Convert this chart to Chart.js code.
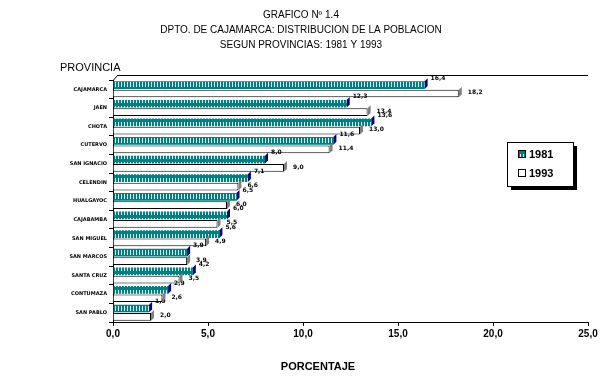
<!DOCTYPE html>
<html>
<head>
<meta charset="utf-8">
<script src="https://cdn.jsdelivr.net/npm/chart.js@4/dist/chart.umd.min.js"></script>
<style>
  html, body { margin: 0; padding: 0; background: #fff; }
  #wrap { width: 614px; height: 383px; }
</style>
</head>
<body>
<div id="wrap"><canvas id="myChart" width="614" height="383"></canvas></div>
<script>
const provincias = ['CAJAMARCA', 'JAEN', 'CHOTA', 'CUTERVO', 'SAN IGNACIO', 'CELENDIN', 'HUALGAYOC',
    'CAJABAMBA', 'SAN MIGUEL', 'SAN MARCOS', 'SANTA CRUZ', 'CONTUMAZA', 'SAN PABLO'];
const valores1981 = [16.4, 12.3, 13.6, 11.6, 8.0, 7.1, 6.5, 6.0, 5.6, 3.9, 4.2, 2.9, 1.9];
const valores1993 = [18.2, 13.4, 13.0, 11.4, 9.0, 6.6, 6.0, 5.5, 4.9, 3.9, 3.5, 2.6, 2.0];
const xTicks = [0, 5, 10, 15, 20, 25];
const titulo = ['GRAFICO Nº 1.4', 'DPTO. DE CAJAMARCA: DISTRIBUCION DE LA POBLACION', 'SEGUN PROVINCIAS: 1981 Y 1993'];

const fmt = v => v.toFixed(1).replace('.', ',');

// teal with light vertical stripes
const makePattern = () => {
    const c = document.createElement('canvas');
    c.width = 3; c.height = 8;
    const g = c.getContext('2d');
    g.fillStyle = '#008080';
    g.fillRect(0, 0, 3, 8);
    g.fillStyle = '#d8f0f0';
    g.fillRect(1, 2, 1, 5);
    return g.createPattern(c, 'repeat');
};

const extras = {
    id: 'extras',
    afterDatasetsDraw(chart) {
        const ctx = chart.ctx;
        const ca = chart.chartArea;
        ctx.save();
        // top line of the plot
        ctx.strokeStyle = '#000';
        ctx.lineWidth = 1;
        ctx.beginPath();
        ctx.moveTo(ca.left + 4, ca.top - 4.5);
        ctx.lineTo(ca.right, ca.top - 4.5);
        ctx.moveTo(ca.left + 0.5, ca.top);
        ctx.lineTo(ca.left + 4.5, ca.top - 4.5);
        ctx.stroke();

        // 3D end caps and value labels
        ctx.font = 'bold 6px "DejaVu Sans"';
        ctx.textBaseline = 'middle';
        ctx.textAlign = 'left';
        chart.data.datasets.forEach((ds, di) => {
            chart.getDatasetMeta(di).data.forEach((bar, i) => {
                const h = bar.height;
                const top = bar.y - h / 2;
                ctx.fillStyle = di === 0 ? '#000080' : '#808080';
                ctx.beginPath();
                ctx.moveTo(bar.x, top);
                ctx.lineTo(bar.x + 3, top - 3);
                ctx.lineTo(bar.x + 3, top + h - 3);
                ctx.lineTo(bar.x, top + h);
                ctx.closePath();
                ctx.fill();
                ctx.fillStyle = '#000';
                if (di === 0) {
                    ctx.fillText(fmt(ds.data[i]), bar.x + 6, top - 3);
                } else {
                    ctx.fillText(fmt(ds.data[i]), bar.x + 9, bar.y - 1);
                }
            });
        });

        // titles
        ctx.font = '10px "Liberation Sans"';
        ctx.textAlign = 'center';
        titulo.forEach((t, i) => ctx.fillText(t, 301, 15 + i * 15));
        ctx.font = '11px "Liberation Sans"';
        ctx.textAlign = 'left';
        ctx.fillText('PROVINCIA', 60, 68);
        ctx.font = 'bold 11px "Liberation Sans"';
        ctx.textAlign = 'center';
        ctx.fillText('PORCENTAJE', 318, 367);

        // legend box with shadow
        const lx = 507, ly = 142, lw = 66, lh = 44;
        ctx.fillStyle = '#000';
        ctx.fillRect(lx + 4, ly + 4, lw, lh);
        ctx.fillStyle = '#fff';
        ctx.fillRect(lx, ly, lw, lh);
        ctx.strokeRect(lx + 0.5, ly + 0.5, lw, lh);
        chart.data.datasets.forEach((ds, di) => {
            const y = ly + 12 + di * 19;
            ctx.fillStyle = ds.backgroundColor;
            ctx.fillRect(lx + 11, y - 4, 8, 8);
            ctx.strokeStyle = '#000';
            ctx.strokeRect(lx + 11.5, y - 3.5, 7, 7);
            ctx.fillStyle = '#000';
            ctx.textAlign = 'left';
            ctx.font = 'bold 11px "Liberation Sans"';
            ctx.fillText(ds.label, lx + 22, y + 1);
        });
        ctx.restore();
    }
};

const initChart = () => {
    const ctx = document.getElementById('myChart').getContext('2d');
    new Chart(ctx, {
        type: 'bar',
        data: {
            labels: provincias,
            datasets: [
                {
                    label: '1981',
                    data: valores1981,
                    backgroundColor: makePattern(),
                    borderColor: '#000',
                    borderWidth: 0,
                    barPercentage: 0.92,
                    categoryPercentage: 0.9
                },
                {
                    label: '1993',
                    data: valores1993,
                    backgroundColor: '#fff',
                    borderColor: '#000',
                    borderWidth: 1,
                    barPercentage: 0.92,
                    categoryPercentage: 0.9
                }
            ]
        },
        options: {
            indexAxis: 'y',
            responsive: false,
            animation: false,
            layout: { padding: { left: 0, right: 26, top: 80, bottom: 0 } },
            plugins: {
                legend: { display: false },
                tooltip: { enabled: false }
            },
            scales: {
                x: {
                    min: 0,
                    max: 25,
                    afterBuildTicks: s => { s.ticks = xTicks.map(v => ({ value: v })); },
                    afterFit: s => { s.height = 61; },
                    grid: { display: true, drawOnChartArea: false, color: '#000', tickLength: 4 },
                    border: { color: '#000', width: 1 },
                    ticks: {
                        color: '#000',
                        maxRotation: 0,
                        padding: 2,
                        font: { family: '"Liberation Sans"', size: 10, weight: 'bold' },
                        callback: v => fmt(v)
                    }
                },
                y: {
                    afterFit: s => { s.width = 113; },
                    grid: { display: true, drawOnChartArea: false, offset: true, color: '#000', tickLength: 4 },
                    border: { color: '#000', width: 1 },
                    ticks: {
                        color: '#000',
                        padding: 2,
                        font: { family: '"DejaVu Sans"', size: 5, weight: 'bold' }
                    }
                }
            }
        },
        plugins: [extras]
    });
};

document.addEventListener('DOMContentLoaded', initChart);
</script>
</body>
</html>
